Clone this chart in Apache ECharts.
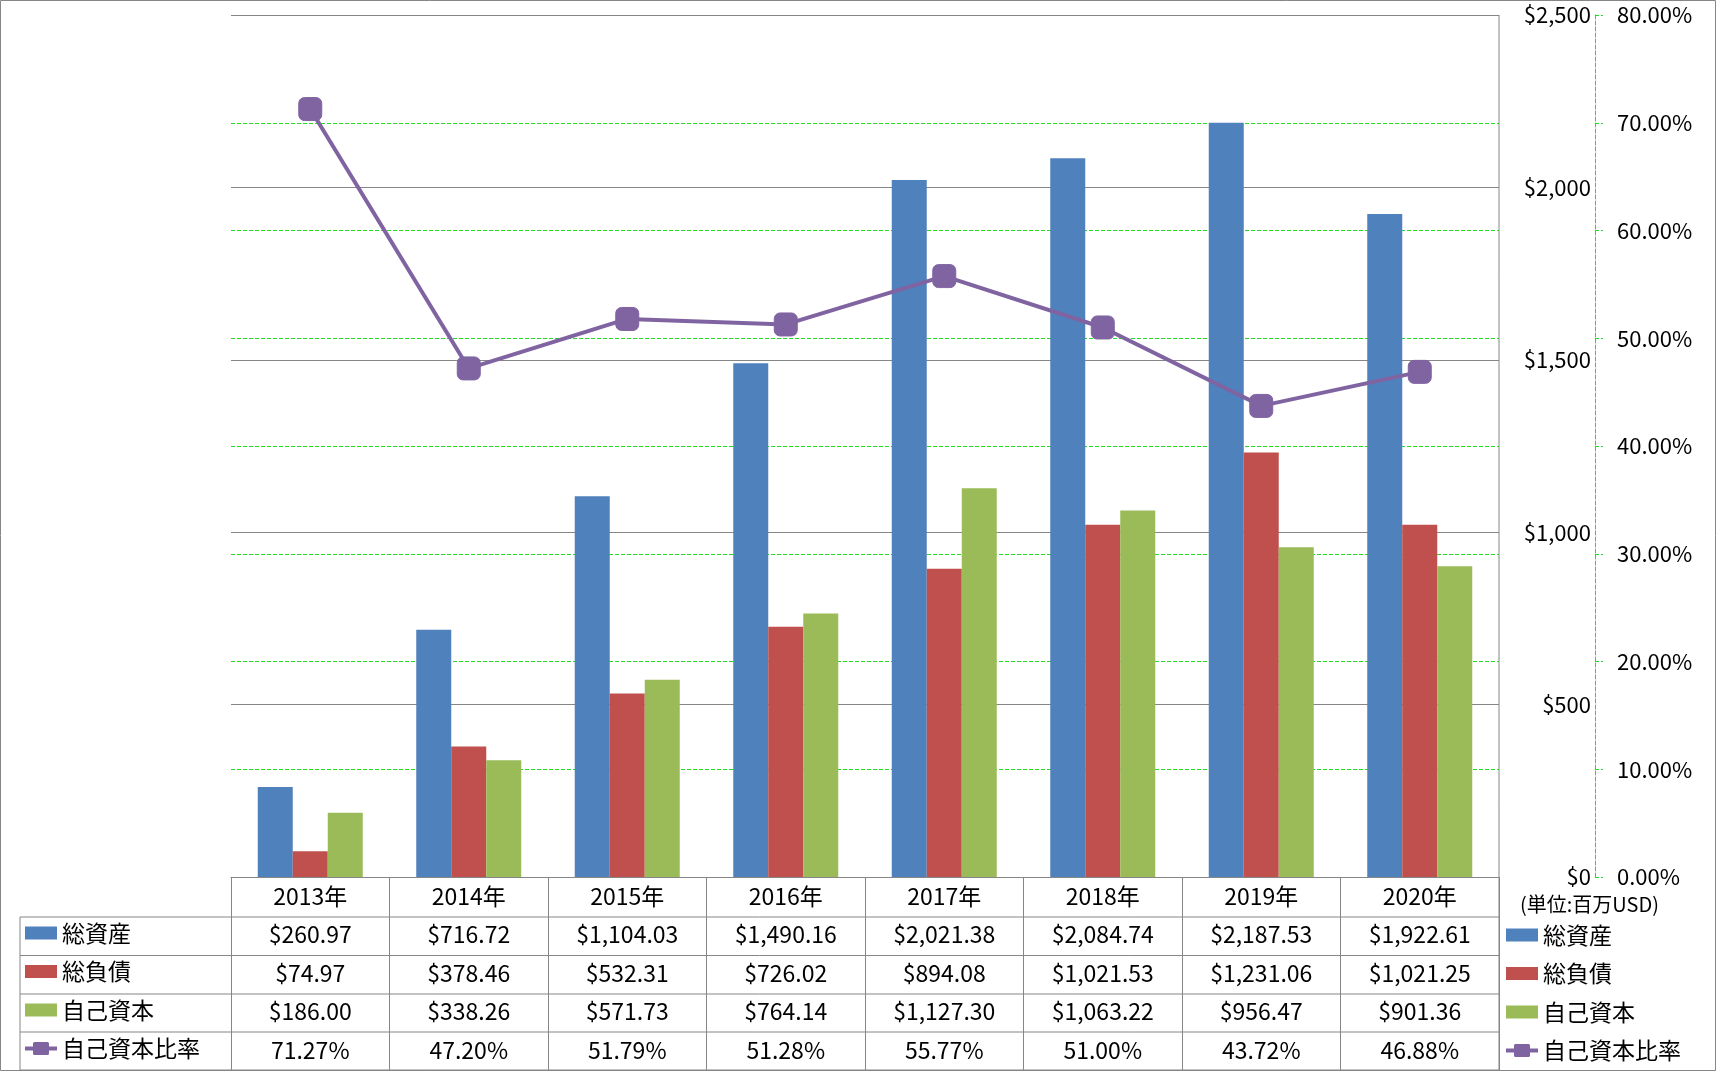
<!DOCTYPE html>
<html>
<head>
<meta charset="utf-8">
<script src="https://cdn.jsdelivr.net/npm/echarts@6/dist/echarts.min.js"></script>
<style>
html,body{margin:0;padding:0;background:#fff;}
#chart{width:1716px;height:1071px;}
</style>
</head>
<body>
<div id="chart"></div>
<script>
const categories = ['2013年','2014年','2015年','2016年','2017年','2018年','2019年','2020年'];
const totalAssets = [260.97, 716.72, 1104.03, 1490.16, 2021.38, 2084.74, 2187.53, 1922.61];
const totalLiabilities = [74.97, 378.46, 532.31, 726.02, 894.08, 1021.53, 1231.06, 1021.25];
const equity = [186.00, 338.26, 571.73, 764.14, 1127.30, 1063.22, 956.47, 901.36];
const equityRatio = [71.27, 47.20, 51.79, 51.28, 55.77, 51.00, 43.72, 46.88];
const seriesNames = ['総資産','総負債','自己資本','自己資本比率'];
const unitText = '(単位:百万USD)';

const FONT = '"Noto Sans CJK JP", "Noto Sans", sans-serif';
const GRAY = '#868686';
const GREEN = '#22DD22';
const COLORS = ['#4F81BD','#C0504D','#9BBB59','#8064A2'];

// layout
const W = 1716, H = 1071;
const gridL = 231, gridR = 1499, gridT = 15, gridB = 877;
const tableBottom = 1070;
const rowLines = [917, 955.5, 994, 1032, 1070];
const legendLeftX = 20;

// legend icon for the line series: a thick line with a rounded square marker
const lineIcon = 'path://M0,4.5 L8,4.5 L8,1.5 Q8,0 9.5,0 L22.5,0 Q24,0 24,1.5 L24,4.5 L32,4.5 L32,8.5 L24,8.5 L24,11.5 Q24,13 22.5,13 L9.5,13 Q8,13 8,11.5 L8,8.5 L0,8.5 Z';

function money(v){ return '$' + v.toLocaleString('en-US',{minimumFractionDigits:2, maximumFractionDigits:2}); }

const chart = echarts.init(document.getElementById('chart'));

const graphics = [];
graphics.push({type:'rect', shape:{x:0.5,y:0.5,width:W-1,height:H-1}, style:{fill:'none', stroke:GRAY, lineWidth:1}, silent:true});
rowLines.forEach(y => {
  graphics.push({type:'line', shape:{x1:legendLeftX, y1:y, x2:gridR, y2:y}, style:{stroke:GRAY, lineWidth:1}, silent:true});
});
graphics.push({type:'line', shape:{x1:legendLeftX, y1:rowLines[0], x2:legendLeftX, y2:tableBottom}, style:{stroke:GRAY, lineWidth:1}, silent:true});
graphics.push({type:'line', shape:{x1:gridR, y1:gridT, x2:gridR, y2:tableBottom}, style:{stroke:GRAY, lineWidth:1}, silent:true});
graphics.push({type:'text', left:1520, top:894, style:{text:unitText, font:'20px ' + FONT, fill:'#000'}, silent:true});

const legendCommon = {
  orient:'vertical', padding:0, itemWidth:32, itemHeight:13, itemGap:14.5,
  textStyle:{fontSize:23, lineHeight:24, color:'#000', fontFamily:FONT},
  selectedMode:false,
  data:[{name:seriesNames[0], icon:'rect'},{name:seriesNames[1], icon:'rect'},{name:seriesNames[2], icon:'rect'},{name:seriesNames[3], icon:lineIcon}]
};

const option = {
  animation:false,
  textStyle:{fontFamily:FONT},
  color:COLORS,
  grid:{left:gridL, right:W-gridR, top:gridT, bottom:H-gridB, containLabel:false},
  legend:[
    Object.assign({}, legendCommon, {left:25, top:921}),
    Object.assign({}, legendCommon, {left:1506, top:923})
  ],
  xAxis:{
    type:'category', data:categories,
    axisLine:{show:true, lineStyle:{color:GRAY, width:1}},
    axisTick:{show:true, length:tableBottom-gridB, interval:0, lineStyle:{color:GRAY, width:1}},
    axisLabel:{
      interval:0, margin:0, fontSize:23, lineHeight:38.5, color:'#000', fontFamily:FONT,
      formatter:(v, i) => [v, money(totalAssets[i]), money(totalLiabilities[i]), money(equity[i]), equityRatio[i].toFixed(2) + '%'].join('\n')
    },
    splitLine:{show:false}
  },
  yAxis:[
    {
      type:'value', position:'right', offset:96, min:0, max:2500, interval:500, z:1,
      axisLine:{show:false}, axisTick:{show:false},
      axisLabel:{inside:true, margin:4, fontSize:22, color:'#000', fontFamily:FONT,
        formatter:v => '$' + v.toLocaleString('en-US')},
      splitLine:{show:true, lineStyle:{color:GRAY, width:1}}
    },
    {
      type:'value', position:'right', offset:96, min:0, max:80, interval:10, z:0,
      axisLine:{show:true, lineStyle:{color:GREEN, width:1, type:'dashed'}},
      axisTick:{show:true, length:8, lineStyle:{color:GREEN, width:1, type:'dashed'}},
      axisLabel:{margin:22, fontSize:22, color:'#000', fontFamily:FONT,
        formatter:v => v.toFixed(2) + '%'},
      splitLine:{show:true, lineStyle:{color:GREEN, width:1, type:'dashed'}}
    }
  ],
  series:[
    {name:seriesNames[0], type:'bar', data:totalAssets, barWidth:35, barGap:'0%', itemStyle:{color:COLORS[0]}},
    {name:seriesNames[1], type:'bar', data:totalLiabilities, barWidth:35, barGap:'0%', itemStyle:{color:COLORS[1]}},
    {name:seriesNames[2], type:'bar', data:equity, barWidth:35, barGap:'0%', itemStyle:{color:COLORS[2]}},
    {name:seriesNames[3], type:'line', yAxisIndex:1, data:equityRatio, z:5,
      symbol:'roundRect', symbolSize:23, showAllSymbol:true,
      lineStyle:{color:COLORS[3], width:4}, itemStyle:{color:COLORS[3], borderColor:COLORS[3]}}
  ],
  graphic:graphics
};
chart.setOption(option);
</script>
</body>
</html>
